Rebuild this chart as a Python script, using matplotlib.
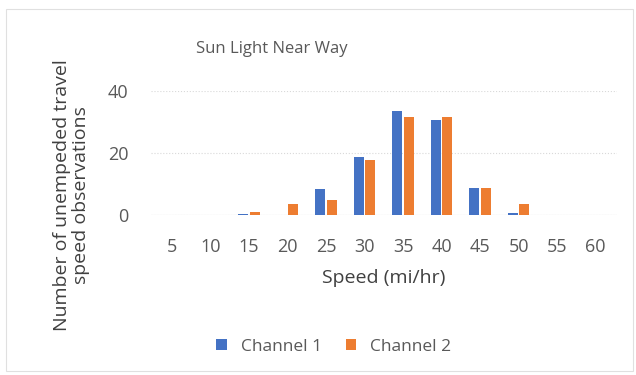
import numpy as np
import matplotlib.pyplot as plt

speeds = ["5", "10", "15", "20", "25", "30", "35", "40", "45", "50", "55", "60"]
channel1 = [0, 0, 0.3, 0, 8.3, 18.6, 33.4, 30.7, 8.6, 0.7, 0, 0]
channel2 = [0, 0, 1.0, 3.5, 4.9, 17.8, 31.5, 31.5, 8.6, 3.4, 0, 0]

plt.rcParams["font.family"] = ["Open Sans", "DejaVu Sans"]

fig = plt.figure(figsize=(6.36, 3.75), dpi=100)
ax = fig.add_axes([0.237, 0.427, 0.733, 0.331])

x = np.arange(len(speeds))
w = 0.26
ax.bar(x - w / 2 - 0.02, channel1, w, color="#4472C4", label="Channel 1", zorder=3)
ax.bar(x + w / 2 + 0.02, channel2, w, color="#ED7D31", label="Channel 2", zorder=3)

ax.set_xlim(-0.55, len(speeds) - 0.45)
ax.set_ylim(0, 40)
ax.set_yticks([0, 20, 40])
ax.set_xticks(x)
ax.set_xticklabels(speeds)
ax.grid(axis="y", color="#d9d9d9", linestyle=":", linewidth=0.8, zorder=0)
for s in ax.spines.values():
    s.set_visible(False)
ax.axhline(0, color="#d9d9d9", linewidth=0.8, zorder=2)
ax.tick_params(length=0, labelsize=13, colors="#595959")
ax.tick_params(axis="x", pad=17)
ax.tick_params(axis="y", pad=16)

ax.set_xlabel("Speed (mi/hr)", fontsize=14, color="#404040", labelpad=9)
# y label sits lower than the axes centre in the original
fig.text(0.112, 0.48, "Number of unempeded travel\nspeed observations",
         rotation=90, ha="center", va="center", multialignment="center",
         fontsize=14, color="#404040", linespacing=1.1)
fig.text(0.428, 0.869, "Sun Light Near Way", ha="center", va="center",
         fontsize=12, color="#595959")

fig.legend(loc="center", bbox_to_anchor=(0.525, 0.075), ncol=2, frameon=False,
           fontsize=12.5, handlelength=0.6, handleheight=0.6, columnspacing=1.4,
           labelcolor="#595959")

fig.add_artist(plt.Rectangle((0.01, 0.01), 0.985, 0.965, transform=fig.transFigure,
                             fill=False, edgecolor="#e0e0e0", linewidth=0.8))

fig.savefig("out.png", dpi=100)
